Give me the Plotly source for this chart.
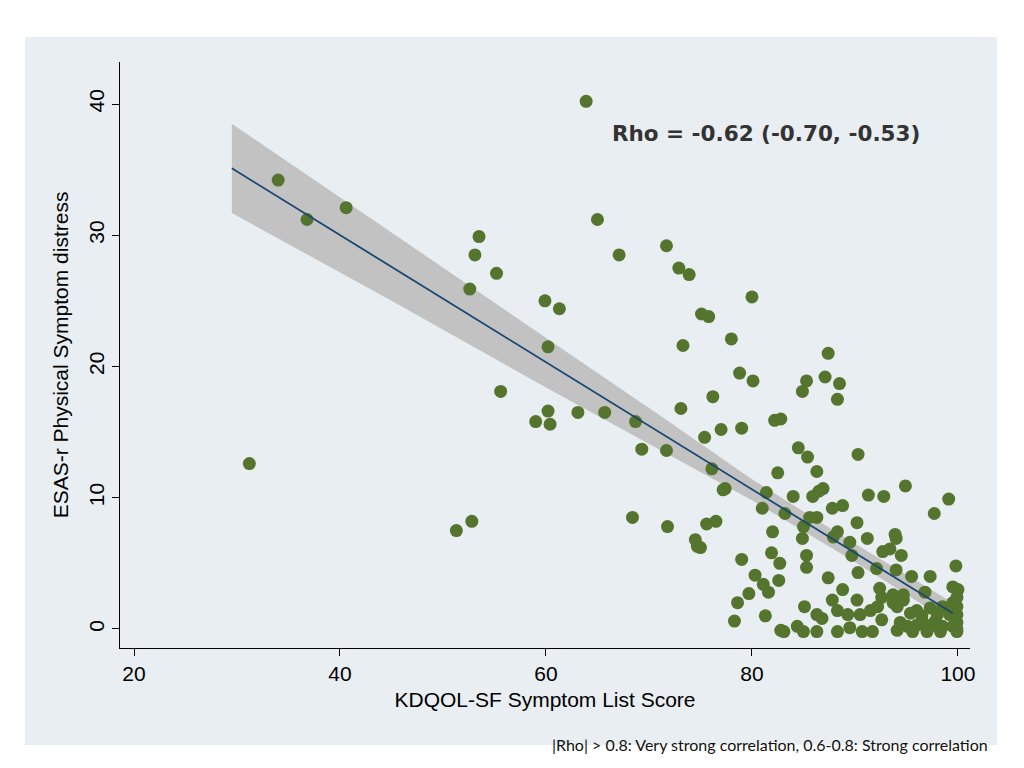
import plotly.graph_objects as go

# Scatter data: KDQOL-SF symptom list score vs ESAS-r physical symptom distress
kdqol = [34.0, 36.8, 40.6, 31.2, 51.3, 52.8, 52.6, 53.1, 53.5, 55.2, 55.6, 59.9, 61.3, 60.2, 59.0,
         60.2, 60.4, 63.1, 63.9, 65.0, 65.7, 67.1, 68.7, 68.4, 69.3, 71.7, 71.7, 71.8, 72.9, 73.9,
         73.1, 73.3, 74.5, 74.7, 75.0, 75.1, 75.8, 75.4, 76.1, 76.2, 75.6, 76.5, 77.0, 77.2, 77.4,
         78.0, 78.8, 79.0, 80.0, 80.1, 78.3, 78.6, 79.0, 79.7, 80.3, 81.1, 81.6, 81.3, 81.4, 81.0,
         81.9, 82.0, 82.2, 82.8, 82.5, 82.7, 82.6, 83.1, 83.2, 84.0, 84.9, 85.3, 87.4, 87.1, 88.5,
         88.3, 84.5, 85.4, 86.3, 90.3, 85.9, 86.5, 86.9, 91.3, 92.8, 94.9, 99.1, 97.7, 87.8, 88.8,
         85.6, 86.3, 90.2, 85.0, 84.9, 87.9, 88.3, 89.5, 91.2, 93.9, 94.0, 92.7, 93.4, 94.5, 85.3,
         85.3, 89.7, 90.3, 92.1, 94.0, 95.5, 97.3, 99.8, 87.4, 88.8, 90.2, 92.4, 92.6, 93.7, 94.7,
         96.8, 99.5, 99.9, 85.1, 87.8, 88.3, 89.3, 90.5, 91.5, 92.2, 93.7, 94.1, 94.7, 96.0, 97.3,
         98.5, 99.5, 86.3, 86.8, 84.4, 85.0, 86.3, 88.3, 89.5, 90.7, 91.7, 92.6, 94.1, 94.4, 95.1,
         96.0, 96.6, 97.3, 98.0, 98.5, 99.5, 99.9, 99.9, 99.9, 95.6, 98.3, 99.2, 98.0, 82.8, 97.0,
         96.5, 97.8, 95.4, 99.9, 100.0, 99.9]
esas = [34.2, 31.2, 32.1, 12.6, 7.5, 8.2, 25.9, 28.5, 29.9, 27.1, 18.1, 25.0, 24.4, 21.5, 15.8,
        16.6, 15.6, 16.5, 40.2, 31.2, 16.5, 28.5, 15.8, 8.5, 13.7, 29.2, 13.6, 7.8, 27.5, 27.0,
        16.8, 21.6, 6.8, 6.3, 6.2, 24.0, 23.8, 14.6, 12.2, 17.7, 8.0, 8.2, 15.2, 10.6, 10.7,
        22.1, 19.5, 15.3, 25.3, 18.9, 0.6, 2.0, 5.3, 2.7, 4.1, 3.4, 2.8, 1.0, 10.4, 9.2,
        5.8, 7.4, 15.9, 16.0, 11.9, 5.0, 3.7, -0.2, 8.8, 10.1, 18.1, 18.9, 21.0, 19.2, 18.7,
        17.5, 13.8, 13.1, 12.0, 13.3, 10.1, 10.5, 10.7, 10.2, 10.1, 10.9, 9.9, 8.8, 9.2, 9.4,
        8.5, 8.5, 8.1, 7.8, 6.9, 7.0, 7.4, 6.6, 6.9, 7.2, 6.9, 5.9, 6.1, 5.6, 5.6,
        4.7, 5.6, 4.3, 4.6, 4.5, 4.0, 4.0, 4.8, 3.9, 3.0, 2.2, 3.1, 2.4, 2.6, 2.6,
        2.8, 3.2, 2.4, 1.7, 2.2, 1.4, 1.1, 1.1, 1.4, 1.7, 2.0, 1.7, 2.2, 1.4, 1.6,
        1.7, 2.0, 1.1, 0.8, 0.2, -0.2, -0.2, -0.2, 0.1, -0.2, -0.2, 0.7, -0.1, 0.5, 0.2,
        0.3, 0.5, 0.2, 0.3, 0.2, 0.2, -0.2, 1.1, 1.7, -0.2, -0.2, 1.1, 1.1, -0.1, -0.2,
        1.0, 0.6, 1.2, 0.5, 3.0, 0.0]

# Fitted line and 95% CI band
fit_x = [29.5, 45.0, 60.0, 71.0, 80.0, 90.0, 99.5]
fit_y = [35.1, 27.6, 20.3, 15.0, 10.6, 5.8, 1.2]
ci_upper = [38.5, 30.2, 22.2, 16.3, 11.4, 6.5, 2.0]
ci_lower = [31.7, 25.0, 18.4, 13.7, 9.8, 5.1, 0.4]

x_ticks = [20, 40, 60, 80, 100]
y_ticks = [0, 10, 20, 30, 40]

fig = go.Figure()
fig.add_trace(go.Scatter(x=fit_x, y=ci_upper, mode="lines", line=dict(width=0, color="#c2c2c2"),
                         showlegend=False, hoverinfo="skip"))
fig.add_trace(go.Scatter(x=fit_x, y=ci_lower, mode="lines", line=dict(width=0, color="#c2c2c2"),
                         fill="tonexty", fillcolor="#c2c2c2", showlegend=False, hoverinfo="skip"))
fig.add_trace(go.Scatter(x=kdqol, y=esas, mode="markers",
                         marker=dict(size=13, color="#55752f", line=dict(width=0)),
                         showlegend=False))
fig.add_trace(go.Scatter(x=fit_x, y=fit_y, mode="lines", line=dict(width=1.8, color="#1a476f"),
                         showlegend=False))

# outer light graph region
fig.add_shape(type="rect", xref="paper", yref="paper", x0=-0.1118, x1=1.0318, y0=-0.1655, y1=1.0427,
              fillcolor="#e8eef1", line=dict(width=0), layer="below")

fig.add_annotation(text="<b>Rho = -0.62 (-0.70, -0.53)</b>", xref="paper", yref="paper",
                   x=0.76, y=0.878, showarrow=False, xanchor="center", yanchor="middle",
                   font=dict(family="DejaVu Sans", size=21.5, color="#333333"))
fig.add_annotation(text="|Rho| > 0.8: Very strong correlation, 0.6-0.8: Strong correlation",
                   xref="paper", yref="paper", x=1.0235, y=-0.1655, showarrow=False,
                   xanchor="right", yanchor="middle",
                   font=dict(family="Lato", size=16, color="#111111"))

axis_font = dict(family="Liberation Sans, Arial", size=21, color="#000000")
fig.update_layout(
    width=1016, height=760,
    margin=dict(l=112, r=54, t=54, b=120),
    paper_bgcolor="white", plot_bgcolor="white",
    font=dict(family="Liberation Sans, Arial", color="#000000"),
    xaxis=dict(range=[18.64, 101.17], tickvals=x_ticks, ticks="outside", ticklen=7,
               tickcolor="#000000", showgrid=False, zeroline=False, showline=True,
               linecolor="#000000", linewidth=1.2, tickfont=axis_font,
               title=dict(text="KDQOL-SF Symptom List Score", font=axis_font, standoff=8)),
    yaxis=dict(range=[-1.45, 43.2], tickvals=y_ticks, ticks="outside", ticklen=7,
               tickcolor="#000000", showgrid=True, gridcolor="#e9eef0", gridwidth=1.5,
               zeroline=False, showline=True, linecolor="#000000", linewidth=1.2,
               tickfont=axis_font, tickangle=-90,
               title=dict(text="ESAS-r Physical Symptom distress", font=axis_font, standoff=10)),
)

fig.write_html("out.html")
